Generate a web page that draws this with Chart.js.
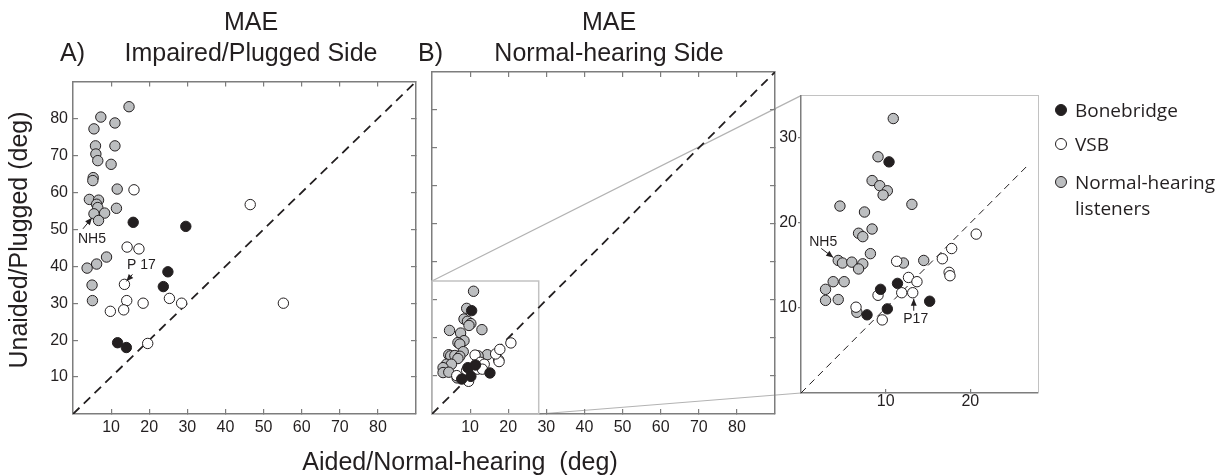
<!DOCTYPE html>
<html>
<head>
<meta charset="utf-8">
<script src="https://cdn.jsdelivr.net/npm/chart.js@4.4.1/dist/chart.umd.min.js"></script>
<style>
  body { margin: 0; background: #fff; width: 1229px; height: 476px; position: relative; overflow: hidden;
         font-family: 'Liberation Sans', Arial, Helvetica, sans-serif; color: #231f20; }
  canvas { position: absolute; }
  .t { position: absolute; white-space: pre; font-size: 25px; line-height: 25px; }
  .c { transform: translateX(-50%); }
  #legend { position: absolute; left: 1054px; top: 0; font-family: 'Open Sans', 'Noto Sans', sans-serif; font-size: 19px; line-height: 26px; }
  .row { position: absolute; left: 0; white-space: nowrap; }
  .dot { position: absolute; width: 12px; height: 12px; border-radius: 50%; border: 1px solid #231f20; box-sizing: border-box; }
</style>
</head>
<body>
<canvas id="links" width="1229" height="476" style="left:0;top:0"></canvas>
<canvas id="chartA" width="386" height="385" style="left:40px;top:62px"></canvas>
<canvas id="chartB" width="363" height="385" style="left:422px;top:62px"></canvas>
<canvas id="chartC" width="280" height="340" style="left:770px;top:85px"></canvas>

<div class="t c" style="left:251px;top:9px">MAE</div>
<div class="t c" style="left:251px;top:40px">Impaired/Plugged Side</div>
<div class="t" style="left:60px;top:40px">A)</div>
<div class="t c" style="left:609px;top:9px">MAE</div>
<div class="t c" style="left:609px;top:40px">Normal-hearing Side</div>
<div class="t" style="left:418px;top:40px">B)</div>
<div class="t" style="left:18px;top:240px;transform:translate(-50%,-50%) rotate(-90deg)">Unaided/Plugged (deg)</div>
<div class="t c" style="left:460px;top:449px">Aided/Normal-hearing  (deg)</div>
<div id="legend"></div>

<script>
// [aided/normal-hearing, unaided/plugged] in degrees

// A) impaired / plugged side
const bonebridgeA = [[15.8, 51.9], [29.6, 50.8], [24.9, 38.5], [23.7, 34.5], [11.7, 19.3], [14.0, 18.0]];
const vsbA = [[16.0, 60.7], [46.5, 56.7], [14.2, 45.2], [17.3, 44.7], [13.5, 35.1], [14.1, 30.7], [18.4, 30.0],
    [9.8, 27.8], [13.3, 28.2], [25.3, 31.3], [28.5, 30.0], [55.2, 30.0], [19.6, 19.1]];
const normalA = [[14.7, 83.2], [7.3, 80.4], [5.5, 77.2], [11.0, 78.8], [5.9, 72.6], [11.0, 72.6], [6.0, 70.4],
    [6.5, 68.6], [10.0, 67.6], [5.3, 64.0], [5.2, 63.2], [11.6, 60.9], [4.3, 58.1], [6.7, 57.9], [6.2, 56.8],
    [6.5, 55.9], [11.4, 55.7], [8.3, 54.4], [5.5, 54.2], [6.7, 52.4], [8.8, 42.5], [6.2, 40.6], [3.7, 39.5],
    [5.0, 34.9], [5.1, 30.7]];

// B) normal-hearing side (also shown enlarged)
const bonebridgeB = [[10.4, 27.2], [9.4, 12.2], [11.4, 12.9], [10.2, 9.9], [7.8, 9.2], [15.2, 10.8]];
const vsbB = [[11.3, 15.5], [12.7, 13.6], [13.7, 13.1], [11.9, 11.8], [13.2, 11.8], [9.1, 11.5], [6.5, 10.1],
    [9.6, 8.6], [17.5, 14.2], [17.6, 13.8], [16.7, 15.8], [17.8, 17.0], [20.7, 18.7]];
const normalB = [[10.9, 32.3], [9.1, 27.8], [8.4, 25.0], [9.3, 24.4], [10.2, 23.8], [9.7, 23.3], [4.6, 22.0],
    [13.1, 22.2], [7.5, 21.3], [8.4, 19.3], [6.8, 18.8], [7.3, 18.4], [8.2, 16.4], [4.4, 15.6], [4.9, 15.3],
    [6.0, 15.4], [7.3, 15.2], [6.8, 14.6], [14.5, 15.6], [12.1, 15.3], [3.8, 13.1], [5.1, 13.1], [2.9, 12.2],
    [2.9, 10.9], [4.4, 11.0], [6.6, 9.5]];

// highlighted listeners: NH5 and P17
const nh5A = [5.5, 54.2], p17A = [13.5, 35.1];
const nh5B = [4.4, 15.6], p17B = [13.2, 11.8];

// axes
const mainRange = [0, 90];
const mainTicks = [10, 20, 30, 40, 50, 60, 70, 80];
const zoomRangeX = [0, 28];
const zoomRangeY = [0, 35];
const zoomTicksX = [10, 20];
const zoomTicksY = [10, 20, 30];
const zoomDiagonalEnd = 27;

const groups = ['Bonebridge', 'VSB', 'Normal-hearing\nlisteners'];

const ink = '#231f20';
const frame = '#7d7d7d';
const light = '#c2c2c2';
const fills = ['#231f20', '#ffffff', '#bcbec0'];
const family = "'Liberation Sans', Arial, Helvetica, sans-serif";

function pts(arr) {
    return arr.map(p => ({ x: p[0], y: p[1] }));
}

function pointSets(bb, vsb, nh) {
    return [bb, vsb, nh].map((arr, i) => ({
        label: groups[i],
        data: pts(arr),
        backgroundColor: fills[i],
        borderColor: ink,
        borderWidth: 1,
        pointRadius: 5.2,
        order: i + 1
    }));
}

function diagonal(end, width, dash) {
    return {
        label: 'identity',
        data: [{ x: 0, y: 0 }, { x: end, y: end }],
        showLine: true,
        pointRadius: 0,
        borderColor: ink,
        borderWidth: width,
        borderDash: dash,
        order: 10
    };
}

function axis(o) {
    return {
        type: 'linear',
        axis: o.axis,
        position: o.position,
        min: o.range[0],
        max: o.range[1],
        afterBuildTicks: s => { s.ticks = o.ticks.map(v => ({ value: v })); },
        afterFit: s => { if (o.axis === 'x') s.height = o.size; else s.width = o.size; },
        border: { color: o.color || frame, width: o.width || 1.5 },
        grid: { drawOnChartArea: false, drawTicks: o.tick !== 0, tickLength: o.tick || 0, color: frame, lineWidth: 1.2 },
        ticks: { display: !!o.labels, color: ink, font: { size: 16, family: family }, padding: o.pad || 0 }
    };
}

// arrow + label pointing at a marked listener
const notes = {
    id: 'notes',
    afterDatasetsDraw(chart, args, opts) {
        const ctx = chart.ctx;
        const xs = chart.scales.x, ys = chart.scales.y;
        (opts.items || []).forEach(n => {
            const px = xs.getPixelForValue(n.at[0]);
            const py = ys.getPixelForValue(n.at[1]);
            const sx = px + n.from[0], sy = py + n.from[1];
            const ex = px + n.to[0], ey = py + n.to[1];
            ctx.save();
            ctx.strokeStyle = ink;
            ctx.fillStyle = ink;
            ctx.lineWidth = 1;
            ctx.beginPath();
            ctx.moveTo(sx, sy);
            ctx.lineTo(ex, ey);
            ctx.stroke();
            const a = Math.atan2(ey - sy, ex - sx);
            ctx.beginPath();
            ctx.moveTo(ex, ey);
            ctx.lineTo(ex - 7 * Math.cos(a) + 3 * Math.sin(a), ey - 7 * Math.sin(a) - 3 * Math.cos(a));
            ctx.lineTo(ex - 7 * Math.cos(a) - 3 * Math.sin(a), ey - 7 * Math.sin(a) + 3 * Math.cos(a));
            ctx.closePath();
            ctx.fill();
            ctx.font = '14px ' + family;
            ctx.textAlign = 'center';
            ctx.textBaseline = 'middle';
            ctx.fillText(n.text, px + n.label[0], py + n.label[1]);
            ctx.restore();
        });
    }
};

// light grey frame in panel B marking the enlarged region
const zoomFrame = {
    id: 'zoomFrame',
    beforeDatasetsDraw(chart, args, opts) {
        if (!opts.x) return;
        const ctx = chart.ctx;
        const x0 = chart.scales.x.getPixelForValue(opts.x[0]), x1 = chart.scales.x.getPixelForValue(opts.x[1]);
        const y0 = chart.scales.y.getPixelForValue(opts.y[0]), y1 = chart.scales.y.getPixelForValue(opts.y[1]);
        ctx.save();
        ctx.strokeStyle = light;
        ctx.lineWidth = 1.5;
        ctx.strokeRect(x0, y1, x1 - x0, y0 - y1);
        ctx.restore();
    }
};

function baseOptions(scales, plugins) {
    return {
        responsive: false,
        animation: false,
        events: [],
        layout: { padding: 0 },
        scales: scales,
        plugins: Object.assign({ legend: { display: false }, tooltip: { enabled: false } }, plugins)
    };
}

const chartA = new Chart(document.getElementById('chartA'), {
    type: 'scatter',
    data: { datasets: pointSets(bonebridgeA, vsbA, normalA).concat([diagonal(90, 1.8, [9, 6])]) },
    options: baseOptions({
        x: axis({ axis: 'x', position: 'bottom', range: mainRange, ticks: mainTicks, size: 33, tick: -5, labels: true, pad: 9 }),
        xTop: axis({ axis: 'x', position: 'top', range: mainRange, ticks: mainTicks, size: 10, tick: -5 }),
        y: axis({ axis: 'y', position: 'left', range: mainRange, ticks: mainTicks, size: 33, tick: -5, labels: true, pad: 10 }),
        yRight: axis({ axis: 'y', position: 'right', range: mainRange, ticks: mainTicks, size: 10, tick: -5 })
    }, {
        notes: { items: [
            { text: 'NH5', at: nh5A, label: [-2, 25], from: [-11, 15], to: [-2, 4] },
            { text: 'P 17', at: p17A, label: [17, -19], from: [8, -10], to: [2, -3] }
        ] }
    }),
    plugins: [notes]
});

const chartB = new Chart(document.getElementById('chartB'), {
    type: 'scatter',
    data: { datasets: pointSets(bonebridgeB, vsbB, normalB).concat([diagonal(90, 1.8, [9, 6])]) },
    options: baseOptions({
        x: axis({ axis: 'x', position: 'bottom', range: mainRange, ticks: mainTicks, size: 33, tick: -5, labels: true, pad: 9 }),
        xTop: axis({ axis: 'x', position: 'top', range: mainRange, ticks: mainTicks, size: 10, tick: -5 }),
        y: axis({ axis: 'y', position: 'left', range: mainRange, ticks: mainTicks, size: 10, tick: -5 }),
        yRight: axis({ axis: 'y', position: 'right', range: mainRange, ticks: mainTicks, size: 10, tick: -5 })
    }, {
        zoomFrame: { x: zoomRangeX, y: zoomRangeY }
    }),
    plugins: [zoomFrame]
});

const chartC = new Chart(document.getElementById('chartC'), {
    type: 'scatter',
    data: { datasets: pointSets(bonebridgeB, vsbB, normalB).concat([diagonal(zoomDiagonalEnd, 1, [7, 5])]) },
    options: baseOptions({
        x: axis({ axis: 'x', position: 'bottom', range: zoomRangeX, ticks: zoomTicksX, size: 32, tick: -4, labels: true, pad: 3 }),
        xTop: axis({ axis: 'x', position: 'top', range: zoomRangeX, ticks: [], size: 10, tick: 0, color: light, width: 1 }),
        y: axis({ axis: 'y', position: 'left', range: zoomRangeY, ticks: zoomTicksY, size: 31, tick: 3, labels: true, pad: 1 }),
        yRight: axis({ axis: 'y', position: 'right', range: zoomRangeY, ticks: [], size: 12, tick: 0, color: light, width: 1 })
    }, {
        notes: { items: [
            { text: 'NH5', at: nh5B, label: [-15, -18], from: [-17, -12], to: [-5, -3] },
            { text: 'P17', at: p17B, label: [3, 26], from: [1, 18], to: [1, 6] }
        ] }
    }),
    plugins: [notes]
});

// connector lines from the frame in panel B to the enlarged panel
function offsetOf(chart) {
    const c = chart.canvas;
    return [parseFloat(c.style.left), parseFloat(c.style.top)];
}

const links = document.getElementById('links').getContext('2d');
const [bl, bt] = offsetOf(chartB);
const [cl, ct] = offsetOf(chartC);
const bx0 = bl + chartB.scales.x.getPixelForValue(zoomRangeX[0]);
const bx1 = bl + chartB.scales.x.getPixelForValue(zoomRangeX[1]);
const by0 = bt + chartB.scales.y.getPixelForValue(zoomRangeY[0]);
const by1 = bt + chartB.scales.y.getPixelForValue(zoomRangeY[1]);
links.strokeStyle = '#b3b3b3';
links.lineWidth = 1.2;
links.beginPath();
links.moveTo(bx0, by1);
links.lineTo(cl + chartC.chartArea.left, ct + chartC.chartArea.top);
links.moveTo(bx1, by0);
links.lineTo(cl + chartC.chartArea.left, ct + chartC.chartArea.bottom);
links.stroke();

// legend
const legendY = [110, 144, 182];
const legend = document.getElementById('legend');
groups.forEach((name, i) => {
    const dot = document.createElement('div');
    dot.className = 'dot';
    dot.style.background = fills[i];
    dot.style.left = '1px';
    dot.style.top = (legendY[i] - 6) + 'px';
    legend.appendChild(dot);

    const row = document.createElement('div');
    row.className = 'row';
    row.style.left = '21px';
    row.style.top = (legendY[i] - 13) + 'px';
    row.innerHTML = name.split('\n').join('<br>');
    legend.appendChild(row);
});
</script>
</body>
</html>
